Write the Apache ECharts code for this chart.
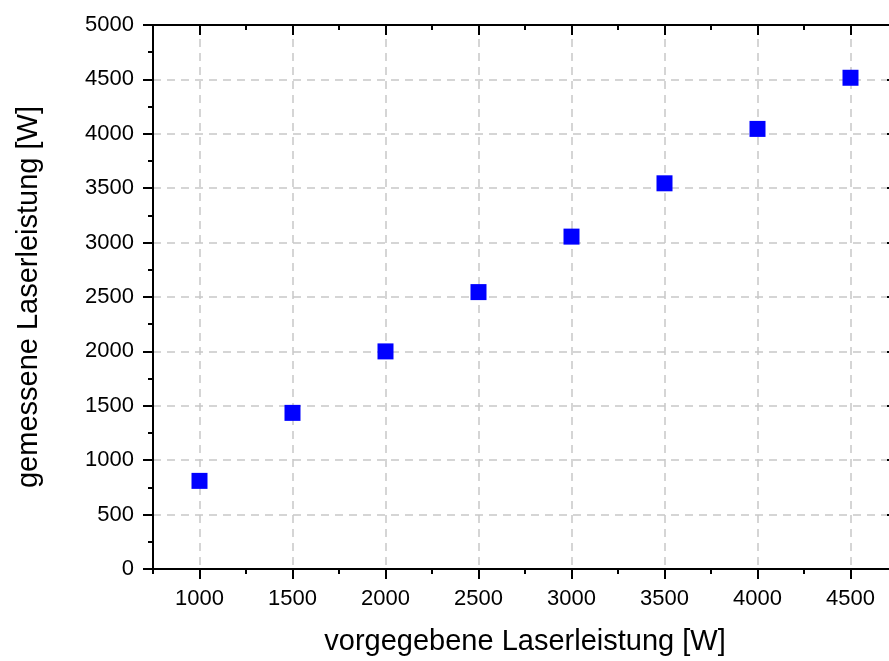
<!DOCTYPE html>
<html>
<head>
<meta charset="utf-8">
<script src="https://cdn.jsdelivr.net/npm/echarts@6/dist/echarts.min.js"></script>
<style>
  html, body { margin: 0; padding: 0; background: #fff; overflow: hidden; }
  #chart { width: 897px; height: 661px; }
</style>
</head>
<body>
<div id="chart"></div>
<script>
// vorgegebene Laserleistung [W]
var setPower = [1000, 1500, 2000, 2500, 3000, 3500, 4000, 4500];
// gemessene Laserleistung [W]
var measuredPower = [810, 1435, 2000, 2545, 3055, 3545, 4045, 4515];
// major tick positions on the x axis
var xMajorTicks = [1000, 1500, 2000, 2500, 3000, 3500, 4000, 4500];

var font = "'Liberation Sans', Arial, sans-serif";
var axisColor = "#000";

var chart = echarts.init(document.getElementById("chart"));

var points = setPower.map(function (x, i) { return [x, measuredPower[i]]; });

function plain(v) { return String(v); }

var xBase = {
  type: "value",
  min: 750,
  max: 4750,
  interval: 250
};

var option = {
  animation: false,
  backgroundColor: "#fff",
  grid: { left: 153, top: 25, right: 0, bottom: 88, containLabel: false },
  xAxis: [
    // bottom axis: labels + major ticks + grid lines
    Object.assign({}, xBase, {
      position: "bottom",
      name: "vorgegebene Laserleistung [W]",
      nameLocation: "middle",
      nameGap: 58,
      nameTextStyle: { fontFamily: font, fontSize: 29, color: "#000" },
      axisLine: { show: true, onZero: false, lineStyle: { color: axisColor, width: 2 } },
      axisTick: { show: true, length: 10, lineStyle: { width: 2 }, customValues: xMajorTicks },
      axisLabel: { show: true, customValues: xMajorTicks, formatter: plain, margin: 19, fontFamily: font, fontSize: 22, color: "#000" },
      splitLine: { show: true, lineStyle: { color: "#c8c8c8", type: [8, 6], width: 1.5 } }
    }),
    // bottom axis overlay: minor ticks
    Object.assign({}, xBase, {
      position: "bottom",
      axisLine: { show: false, onZero: false },
      axisTick: { show: true, length: 5, lineStyle: { color: axisColor, width: 2 } },
      axisLabel: { show: false },
      splitLine: { show: false }
    }),
    // top axis: major ticks inside
    Object.assign({}, xBase, {
      position: "top",
      axisLine: { show: true, onZero: false, lineStyle: { color: axisColor, width: 2 } },
      axisTick: { show: true, inside: true, length: 10, lineStyle: { width: 2 }, customValues: xMajorTicks },
      axisLabel: { show: false },
      splitLine: { show: false }
    }),
    // top axis overlay: minor ticks inside
    Object.assign({}, xBase, {
      position: "top",
      axisLine: { show: false, onZero: false },
      axisTick: { show: true, inside: true, length: 5, lineStyle: { color: axisColor, width: 2 } },
      axisLabel: { show: false },
      splitLine: { show: false }
    })
  ],
  yAxis: [
    {
      type: "value",
      position: "left",
      min: 0,
      max: 5000,
      interval: 500,
      name: "gemessene Laserleistung [W]",
      nameLocation: "middle",
      nameGap: 110,
      nameTextStyle: { fontFamily: font, fontSize: 29, color: "#000" },
      axisLine: { show: true, onZero: false, lineStyle: { color: axisColor, width: 2 } },
      axisTick: { show: true, length: 10, lineStyle: { width: 2 } },
      minorTick: { show: true, splitNumber: 2, length: 5, lineStyle: { color: axisColor, width: 2 } },
      axisLabel: { formatter: plain, margin: 19, fontFamily: font, fontSize: 22, color: "#000" },
      splitLine: { show: true, lineStyle: { color: "#c8c8c8", type: [8, 6], width: 1.5 } }
    },
    {
      type: "value",
      position: "right",
      min: 0,
      max: 5000,
      interval: 500,
      axisLine: { show: true, onZero: false, lineStyle: { color: axisColor, width: 2 } },
      axisTick: { show: true, inside: true, length: 10, lineStyle: { width: 2 } },
      minorTick: { show: true, splitNumber: 2, length: 5, lineStyle: { color: axisColor, width: 2 } },
      axisLabel: { show: false },
      splitLine: { show: false }
    }
  ],
  series: [
    {
      type: "scatter",
      xAxisIndex: 0,
      yAxisIndex: 0,
      symbol: "rect",
      symbolSize: 16,
      itemStyle: { color: "#0000ff", opacity: 1 },
      data: points
    }
  ]
};

chart.setOption(option);
</script>
</body>
</html>
